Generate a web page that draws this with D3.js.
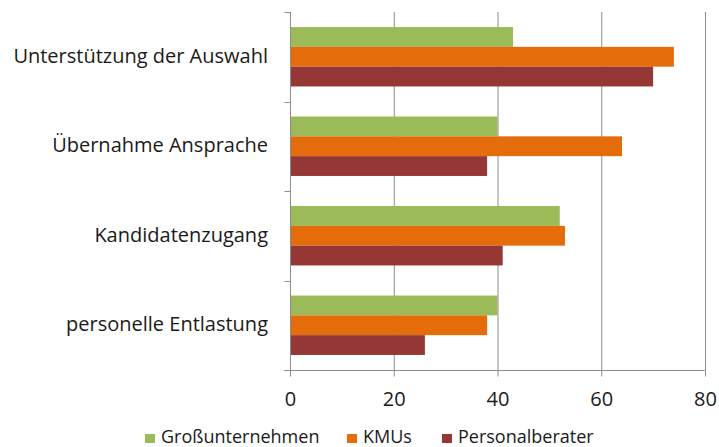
<!DOCTYPE html>
<html>
<head>
<meta charset="utf-8">
<script src="https://cdn.jsdelivr.net/npm/d3@7.9.0/dist/d3.min.js"></script>
<style>
  html, body { margin: 0; padding: 0; background: #fff; }
  svg { display: block; }
</style>
</head>
<body>
<div id="chart"></div>
<script>
// categories top to bottom
const categories = ['Unterstützung der Auswahl', 'Übernahme Ansprache', 'Kandidatenzugang', 'personelle Entlastung'];
const seriesNames = ['Großunternehmen', 'KMUs', 'Personalberater'];
const grossValues = [43, 40, 52, 40];
const kmuValues = [74, 64, 53, 38];
const beraterValues = [70, 38, 41, 26];
const xTicks = [0, 20, 40, 60, 80];

const COLORS = ['#9bbb59', '#e46c0a', '#953735'];
const GRID = '#8c8c8c';
const TEXT = '#1a1a1a';
const FONT = '"Open Sans", sans-serif';

const width = 719, height = 447;
const margin = { top: 12, right: 14, bottom: 77, left: 290 };

const seriesValues = [grossValues, kmuValues, beraterValues];
const rows = categories.map((c, i) => ({
    name: c,
    values: seriesNames.map((s, j) => ({ series: s, idx: j, value: seriesValues[j][i] }))
}));

const svg = d3.select('#chart')
    .append('svg')
    .attr('width', width)
    .attr('height', height);

const x = d3.scaleLinear()
    .domain([0, 80])
    .range([margin.left, width - margin.right]);

const y0 = d3.scaleBand()
    .domain(categories)
    .range([margin.top, height - margin.bottom]);

const y1 = d3.scaleBand()
    .domain(seriesNames)
    .range([0, y0.bandwidth()])
    .paddingInner(0)
    .paddingOuter(0.76);

// vertical gridlines
svg.append('g')
    .selectAll('line')
    .data(xTicks.slice(1))
    .join('line')
    .attr('x1', d => x(d) + 0.5)
    .attr('x2', d => x(d) + 0.5)
    .attr('y1', margin.top)
    .attr('y2', height - margin.bottom)
    .attr('stroke', GRID)
    .attr('stroke-width', 1);

// bars
const group = svg.append('g')
    .selectAll('g')
    .data(rows)
    .join('g')
    .attr('transform', d => `translate(0,${y0(d.name)})`);

group.selectAll('rect')
    .data(d => d.values)
    .join('rect')
    .attr('x', x(0))
    .attr('y', d => y1(d.series))
    .attr('width', d => x(d.value) - x(0))
    .attr('height', y1.bandwidth())
    .attr('fill', d => COLORS[d.idx]);

// x axis
const xAxis = svg.append('g')
    .attr('transform', `translate(0,${height - margin.bottom + 0.5})`)
    .call(d3.axisBottom(x).tickValues(xTicks).tickSize(6).tickSizeOuter(0).tickPadding(15));
xAxis.select('.domain').attr('stroke', GRID).attr('d', `M${x(0) - 6},0H${x(80)}`);
xAxis.selectAll('.tick line').attr('stroke', GRID);
xAxis.selectAll('.tick text')
    .attr('fill', TEXT)
    .attr('font-family', FONT)
    .attr('font-size', '20px');

// y axis (category boundaries as tick marks)
const yAxis = svg.append('g')
    .attr('transform', `translate(${x(0) + 0.5},0)`);
yAxis.append('line')
    .attr('y1', margin.top)
    .attr('y2', height - margin.bottom)
    .attr('stroke', GRID);
yAxis.selectAll('line.tk')
    .data(categories)
    .join('line')
    .attr('class', 'tk')
    .attr('x1', -6)
    .attr('x2', 0)
    .attr('y1', d => Math.round(y0(d)) + 0.5)
    .attr('y2', d => Math.round(y0(d)) + 0.5)
    .attr('stroke', GRID);

// category labels
svg.append('g')
    .selectAll('text')
    .data(categories)
    .join('text')
    .attr('x', x(0) - 22)
    .attr('y', d => y0(d) + y0.bandwidth() / 2 - 1)
    .attr('dy', '0.35em')
    .attr('text-anchor', 'end')
    .attr('fill', TEXT)
    .attr('font-family', FONT)
    .attr('font-size', '20px')
    .text(d => d);

// legend
const legendX = [145, 347, 442];
const legend = svg.append('g')
    .selectAll('g')
    .data(seriesNames)
    .join('g')
    .attr('transform', (d, i) => `translate(${legendX[i]},434)`);

legend.append('rect')
    .attr('width', 10)
    .attr('height', 9)
    .attr('fill', (d, i) => COLORS[i]);

legend.append('text')
    .attr('x', 16)
    .attr('y', 9)
    .attr('fill', TEXT)
    .attr('font-family', FONT)
    .attr('font-size', '18px')
    .text(d => d);
</script>
</body>
</html>
